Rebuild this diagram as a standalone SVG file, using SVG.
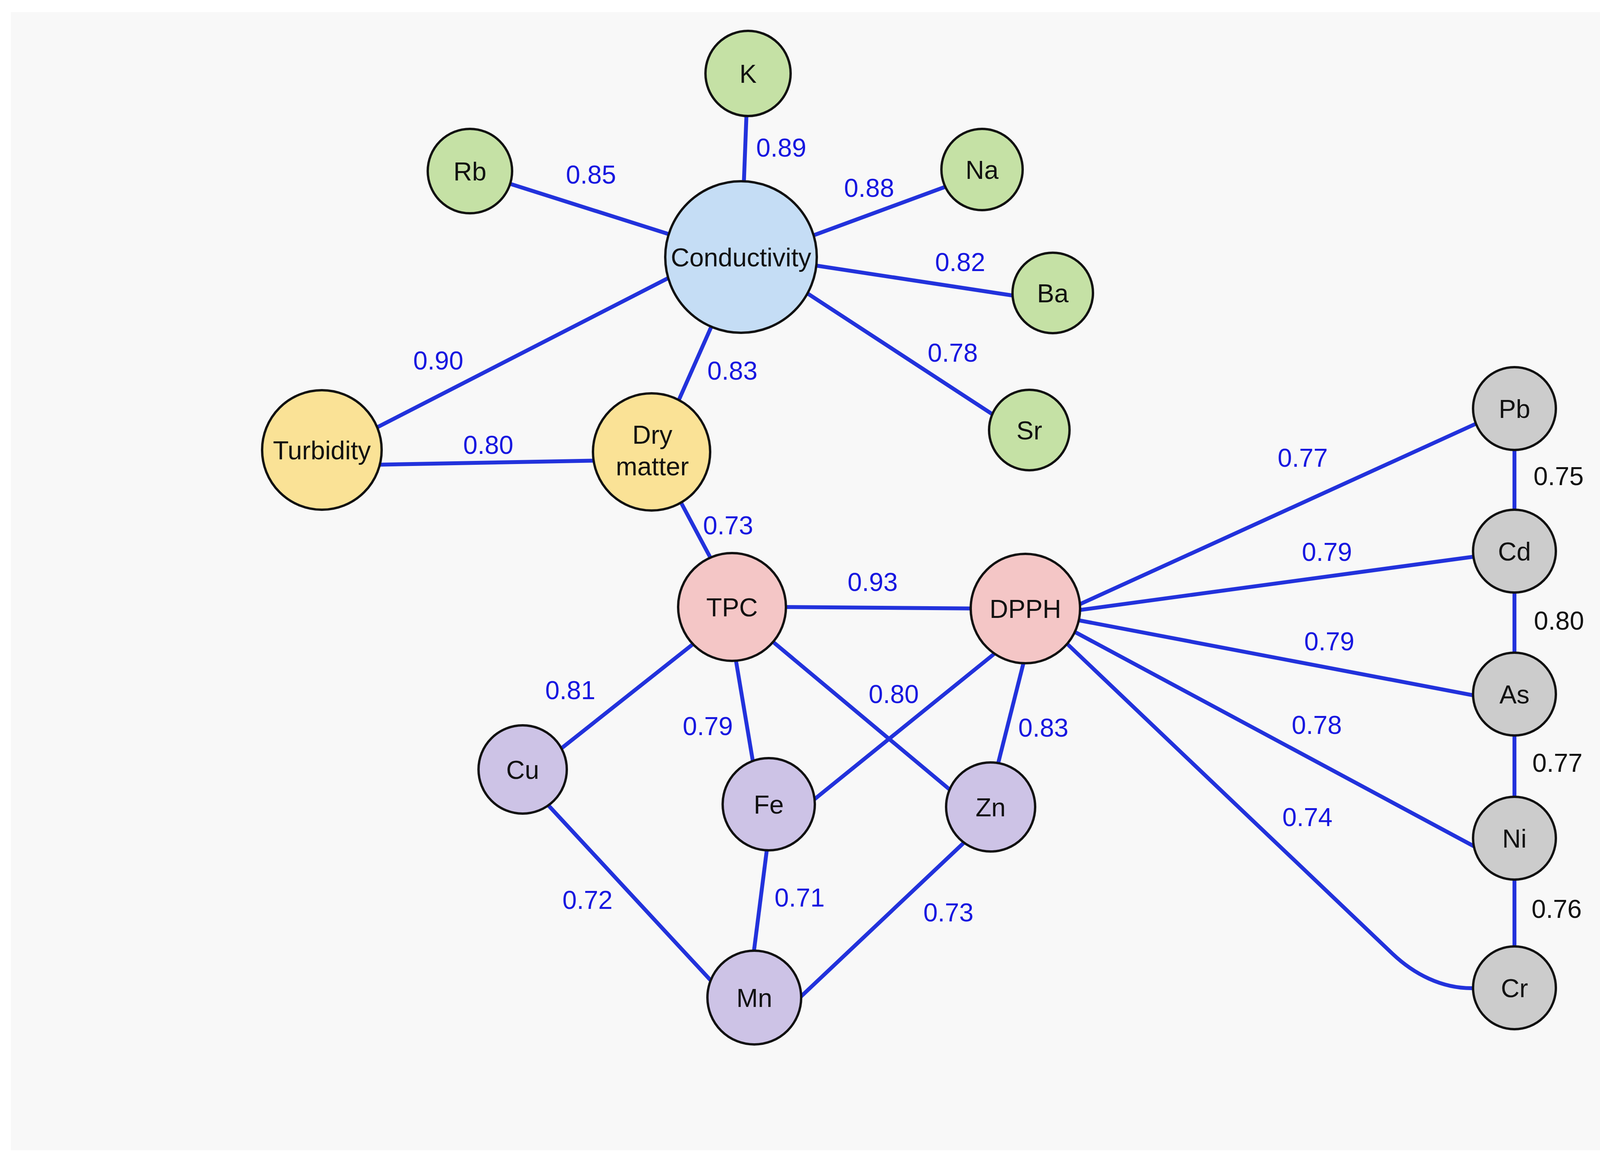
<svg xmlns="http://www.w3.org/2000/svg" width="4419" height="2975" viewBox="0 0 4419 2975">
<style>
.e{stroke:#2232dc;stroke-width:10;fill:none;stroke-linecap:butt}
.n{stroke:#111;stroke-width:6}
.g{fill:#c5e1a5}.b{fill:#c5ddf5}.y{fill:#fae296}.p{fill:#f4c6c6}.v{fill:#cdc3e6}.s{fill:#cccccc}
.t{font-family:"Liberation Sans",Arial,sans-serif;font-size:66px;fill:#111;text-anchor:middle}
.l{font-family:"Liberation Sans",Arial,sans-serif;font-size:66px;fill:#1717e0;text-anchor:middle}
.k{font-family:"Liberation Sans",Arial,sans-serif;font-size:66px;fill:#111;text-anchor:middle}
</style>
<rect x="0" y="0" width="4419" height="2975" fill="#ffffff"/>
<rect x="28" y="31" width="4363" height="2914" fill="#f8f8f8"/>
<g id="connectors">
<line class="e" x1="1915" y1="188" x2="1897" y2="658"/>
<line class="e" x1="1203" y1="438" x2="1897" y2="658"/>
<line class="e" x1="2065" y1="609" x2="2437" y2="472"/>
<line class="e" x1="2070" y1="677" x2="2615" y2="760"/>
<line class="e" x1="2050" y1="740" x2="2558" y2="1072"/>
<line class="e" x1="950" y1="1102" x2="1732" y2="701"/>
<line class="e" x1="955" y1="1190" x2="1540" y2="1179"/>
<line class="e" x1="1729" y1="1044" x2="1830" y2="816"/>
<line class="e" x1="1735" y1="1271" x2="1830" y2="1449"/>
<line class="e" x1="1985" y1="1554" x2="2510" y2="1558"/>
<line class="e" x1="1793" y1="1634" x2="1422" y2="1928"/>
<line class="e" x1="1880" y1="1667" x2="1931" y2="1971"/>
<line class="e" x1="1963" y1="1630" x2="2451" y2="2038"/>
<line class="e" x1="2560" y1="1662" x2="2068" y2="2060"/>
<line class="e" x1="2625" y1="1678" x2="2550" y2="1975"/>
<line class="e" x1="1391" y1="2048" x2="1837" y2="2529"/>
<line class="e" x1="1966" y1="2153" x2="1927" y2="2459"/>
<line class="e" x1="2484" y1="2142" x2="2035" y2="2566"/>
<line class="e" x1="2740" y1="1558" x2="3800" y2="1075"/>
<line class="e" x1="2740" y1="1565" x2="3797" y2="1422"/>
<line class="e" x1="2740" y1="1584" x2="3797" y2="1785"/>
<line class="e" x1="2735" y1="1609" x2="3800" y2="2181"/>
<path class="e" d="M2720 1637 L3565 2442 C3620 2494 3690 2530 3767 2530 L3800 2530"/>
<line class="e" x1="3877" y1="1046" x2="3877" y2="1411"/>
<line class="e" x1="3877" y1="1411" x2="3877" y2="1777"/>
<line class="e" x1="3877" y1="1777" x2="3877" y2="2146"/>
<line class="e" x1="3877" y1="2146" x2="3877" y2="2529"/>
</g>
<g id="edge-labels">
<text class="l" x="2000" y="401">0.89</text>
<text class="l" x="1513" y="470">0.85</text>
<text class="l" x="2225" y="504">0.88</text>
<text class="l" x="2458" y="694">0.82</text>
<text class="l" x="2439" y="926">0.78</text>
<text class="l" x="1122" y="946">0.90</text>
<text class="l" x="1875" y="972">0.83</text>
<text class="l" x="1250" y="1162">0.80</text>
<text class="l" x="1864" y="1368">0.73</text>
<text class="l" x="2234" y="1513">0.93</text>
<text class="l" x="1460" y="1790">0.81</text>
<text class="l" x="1812" y="1882">0.79</text>
<text class="l" x="2288" y="1800">0.80</text>
<text class="l" x="2671" y="1886">0.83</text>
<text class="l" x="1504" y="2327">0.72</text>
<text class="l" x="2047" y="2321">0.71</text>
<text class="l" x="2428" y="2359">0.73</text>
<text class="l" x="3335" y="1195">0.77</text>
<text class="l" x="3397" y="1436">0.79</text>
<text class="l" x="3403" y="1665">0.79</text>
<text class="l" x="3371" y="1879">0.78</text>
<text class="l" x="3347" y="2115">0.74</text>
<text class="k" x="3990" y="1242">0.75</text>
<text class="k" x="3991" y="1612">0.80</text>
<text class="k" x="3987" y="1976">0.77</text>
<text class="k" x="3985" y="2350">0.76</text>
</g>
<g id="node-K"><circle class="n g" cx="1915" cy="188" r="109"/><text class="t" x="1915" y="212">K</text></g>
<g id="node-Rb"><circle class="n g" cx="1203" cy="438" r="108"/><text class="t" x="1203" y="462">Rb</text></g>
<g id="node-Na"><circle class="n g" cx="2514" cy="434" r="104"/><text class="t" x="2514" y="458">Na</text></g>
<g id="node-Ba"><circle class="n g" cx="2695" cy="750" r="103"/><text class="t" x="2695" y="774">Ba</text></g>
<g id="node-Sr"><circle class="n g" cx="2635" cy="1101" r="103"/><text class="t" x="2635" y="1125">Sr</text></g>
<g id="node-Conductivity"><circle class="n b" cx="1897" cy="658" r="194"/><text class="t" x="1897" y="682">Conductivity</text></g>
<g id="node-Turbidity"><circle class="n y" cx="824" cy="1152" r="153"/><text class="t" x="824" y="1176">Turbidity</text></g>
<g id="node-DryMatter"><circle class="n y" cx="1668" cy="1157" r="150"/><text class="t" x="1670" y="1136">Dry</text><text class="t" x="1670" y="1217">matter</text></g>
<g id="node-TPC"><circle class="n p" cx="1874" cy="1554" r="138"/><text class="t" x="1874" y="1578">TPC</text></g>
<g id="node-DPPH"><circle class="n p" cx="2625" cy="1558" r="140"/><text class="t" x="2625" y="1582">DPPH</text></g>
<g id="node-Cu"><circle class="n v" cx="1338" cy="1970" r="113"/><text class="t" x="1338" y="1994">Cu</text></g>
<g id="node-Fe"><circle class="n v" cx="1968" cy="2059" r="118"/><text class="t" x="1968" y="2083">Fe</text></g>
<g id="node-Zn"><circle class="n v" cx="2536" cy="2066" r="114"/><text class="t" x="2536" y="2090">Zn</text></g>
<g id="node-Mn"><circle class="n v" cx="1931" cy="2554" r="120"/><text class="t" x="1931" y="2578">Mn</text></g>
<g id="node-Pb"><circle class="n s" cx="3877" cy="1046" r="106"/><text class="t" x="3877" y="1070">Pb</text></g>
<g id="node-Cd"><circle class="n s" cx="3877" cy="1411" r="106"/><text class="t" x="3877" y="1435">Cd</text></g>
<g id="node-As"><circle class="n s" cx="3877" cy="1777" r="106"/><text class="t" x="3877" y="1801">As</text></g>
<g id="node-Ni"><circle class="n s" cx="3877" cy="2146" r="106"/><text class="t" x="3877" y="2170">Ni</text></g>
<g id="node-Cr"><circle class="n s" cx="3877" cy="2529" r="106"/><text class="t" x="3877" y="2553">Cr</text></g>
</svg>
